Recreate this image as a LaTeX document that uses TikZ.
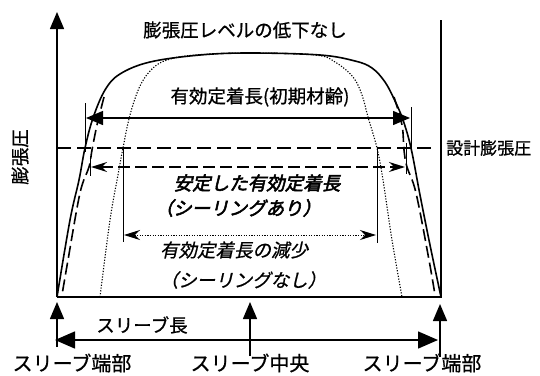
\documentclass[tikz,border=0pt]{standalone}
\usepackage{fontspec}
\usetikzlibrary{arrows.meta}
\newfontfamily\jp[FakeBold=0.8]{Noto Sans CJK JP}
\newfontfamily\jpi[FakeSlant=0.22,FakeBold=0.8]{Noto Sans CJK JP}
\newfontfamily\jpbi[FakeSlant=0.22,FakeBold=2.8]{Noto Sans CJK JP}
\tikzset{
  lbl/.style={inner sep=0pt,font=\jp\fontsize{18.5}{20}\selectfont},
  lblbig/.style={inner sep=0pt,font=\jp\fontsize{20}{22}\selectfont},
  lblbi/.style={inner sep=0pt,font=\jpbi\fontsize{18.5}{20}\selectfont},
  lbli/.style={inner sep=0pt,font=\jpi\fontsize{18.5}{20}\selectfont},
  bigtip/.style={-{Triangle[length=17pt,width=14pt]}},
  bigboth/.style={{Triangle[length=17pt,width=14pt]}-{Triangle[length=17pt,width=14pt]}},
  stboth/.style={{Stealth[length=16pt,width=10pt]}-{Stealth[length=16pt,width=10pt]}},
  tick/.style={line width=0.9pt},
  curve/.style={line width=1.6pt},
  longdash/.style={line width=1.6pt,dash pattern=on 12pt off 5pt},
  dotcurve/.style={line width=1.1pt,dash pattern=on 1.2pt off 1.6pt},
}
\begin{document}
\begin{tikzpicture}[x=1pt,y=-1pt]
\useasboundingbox (0,0) rectangle (540,375);
% axes and frame
\coordinate (o) at (57,297);
\coordinate (ytop) at (57,12);
\coordinate (rb) at (441,297);
\coordinate (rt) at (441,20);
\draw[line width=1.5pt,bigtip] (o) -- (ytop);
\draw[line width=1.5pt] (o) -- (rb) -- (rt);
% curves
\draw[curve] plot[smooth,tension=0.6] coordinates {(57,297) (70,220) (79,180) (85,148) (93,118) (105,90) (120,74) (150,62) (200,55) (250,53) (320,55) (355,61) (372,68) (385,82) (395,101) (403,120) (411,148) (420,195) (430,245) (441,297)};
\draw[longdash] plot[smooth,tension=0.6] coordinates {(104,97) (97,125) (92,150) (89,167) (80,193) (68,260) (62,295)};
\draw[longdash] plot[smooth,tension=0.6] coordinates {(394,97) (402,125) (404,150) (407,167) (416,193) (429,260) (435,295)};
\draw[dotcurve] plot[smooth,tension=0.6] coordinates {(100,297) (110,220) (118,175) (123,148) (130,115) (140,86) (152,69) (167,60) (195,55) (250,53) (315,55) (335,62) (353,77) (362,95) (368,117) (377,148) (383,180) (392,240) (402,297)};
% design line
\coordinate (dl) at (57,148);
\coordinate (dr) at (436,148);
\draw[line width=1.5pt,dash pattern=on 14pt off 6pt] (dl) -- (dr);
% ticks
\draw[tick] (85,103) -- (85,152);
\draw[tick] (411,107) -- (411,152);
\draw[tick] (90,157) -- (90,176);
\draw[tick] (406,143) -- (406,174);
\draw[tick] (123,148) -- (123,242);
\draw[tick] (377,148) -- (377,243);
% horizontal arrows
\coordinate (a1l) at (86,118); \coordinate (a1r) at (410,118);
\draw[line width=1.3pt,bigboth] (a1l) -- (a1r);
\coordinate (a2l) at (91,167); \coordinate (a2r) at (405,167);
\draw[line width=1.4pt,dash pattern=on 12pt off 5pt,stboth] (a2l) -- (a2r);
\coordinate (a3l) at (124,235); \coordinate (a3r) at (376,235);
\draw[line width=1pt,dash pattern=on 1.2pt off 1.4pt,stboth] (a3l) -- (a3r);
% labels
\node[lbl] (title) at (245,30) {膨張圧レベルの低下なし};
\node[lbl] (init) at (260,97) {有効定着長(初期材齢)};
\node[lbl,rotate=90] (ylab) at (20,157) {膨張圧};
\node[lbl,anchor=west,font=\jp\fontsize{17}{19}\selectfont] (design) at (446,148) {設計膨張圧};
\node[lblbi] (st1) at (257,183) {安定した有効定着長};
\node[lblbi] (st2) at (238,208) {（シーリングあり）};
\node[lbli] (dc1) at (234,250) {有効定着長の減少};
\node[lbli] (dc2) at (243,280) {（シーリングなし）};
% sleeve
\node[lbl] (len) at (142,325) {スリーブ長};
\node[lblbig] (endL) at (72,363) {スリーブ端部};
\node[lblbig] (mid) at (250,363) {スリーブ中央};
\node[lblbig] (endR) at (422,363) {スリーブ端部};
\coordinate (uL0) at (57,347); \coordinate (uL1) at (57,302);
\coordinate (uM0) at (250,356); \coordinate (uM1) at (250,302);
\coordinate (uR0) at (440,357); \coordinate (uR1) at (440,304);
\draw[line width=1.5pt,bigtip] (uL0) -- (uL1);
\draw[line width=1.5pt,bigtip] (uM0) -- (uM1);
\draw[line width=1.5pt,bigtip] (uR0) -- (uR1);
\coordinate (hl) at (55,340); \coordinate (hr) at (438,340);
\draw[line width=1.5pt,{Triangle[length=20pt,width=17pt]}-{Triangle[length=20pt,width=17pt]}] (hl) -- (hr);
\end{tikzpicture}
\end{document}
